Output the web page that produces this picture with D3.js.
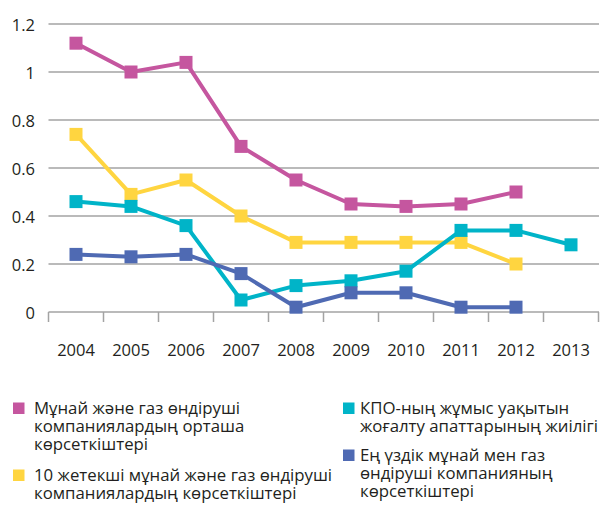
<!DOCTYPE html>
<html><head><meta charset="utf-8">
<script src="https://cdn.jsdelivr.net/npm/d3@7"></script>
<style>
html,body{margin:0;padding:0;background:#fff;}
svg{display:block;font-family:"Open Sans",sans-serif;}
</style></head>
<body><svg id="c" width="604" height="505"></svg>
<script>
const years = ["2004","2005","2006","2007","2008","2009","2010","2011","2012","2013"];
const yTicks = [0, 0.2, 0.4, 0.6, 0.8, 1, 1.2];
const avgValues  = [1.12, 1.00, 1.04, 0.69, 0.55, 0.45, 0.44, 0.45, 0.50, null];
const top10Values = [0.74, 0.49, 0.55, 0.40, 0.29, 0.29, 0.29, 0.29, 0.20, null];
const kpoValues  = [0.46, 0.44, 0.36, 0.05, 0.11, 0.13, 0.17, 0.34, 0.34, 0.28];
const bestValues = [0.24, 0.23, 0.24, 0.16, 0.02, 0.08, 0.08, 0.02, 0.02, null];
const seriesNames = [
  ["Мұнай және газ өндіруші","компаниялардың орташа","көрсеткіштері"],
  ["10 жетекші мұнай және газ өндіруші","компаниялардың көрсеткіштері"],
  ["КПО-ның жұмыс уақытын","жоғалту апаттарының жиілігі"],
  ["Ең үздік мұнай мен газ","өндіруші компанияның","көрсеткіштері"]
];
const colors = ["#C5569F", "#FFD540", "#00B4C8", "#4F6AB3"];
const series = [avgValues, top10Values, kpoValues, bestValues];

const svg = d3.select("#c");
const x = d3.scaleBand().domain(years).range([48.5, 598.5]);
const y = d3.scaleLinear().domain([0, 1.2]).range([312, 24]);
const textColor = "#231F20";
const gridColor = "#A3A3A3";

// gridlines
svg.append("g").selectAll("line").data(yTicks.filter(d => d > 0)).join("line")
  .attr("x1", 48.5).attr("x2", 599).attr("y1", d => y(d)).attr("y2", d => y(d))
  .attr("stroke", gridColor).attr("stroke-width", 1.5);

// y labels
svg.append("g").selectAll("text").data(yTicks).join("text")
  .attr("x", 35).attr("y", d => y(d) + 1).attr("dy", "0.35em")
  .attr("text-anchor", "end").attr("font-size", 16.5).attr("fill", textColor)
  .text(d => d === 0 ? "0" : d3.format("")(d));

// x axis
const xAxis = d3.axisBottom(x).tickSize(10).tickSizeOuter(0).tickFormat("");
const gx = svg.append("g").attr("transform", "translate(0,312)").call(xAxis);
gx.select(".domain").attr("stroke", gridColor).attr("stroke-width", 1.5).attr("d", "M48.5,0H599");
gx.selectAll(".tick").remove();
const tickPos = years.map(d => x(d)).concat([x.range()[1]]);
gx.append("g").selectAll("line").data(tickPos).join("line")
  .attr("x1", d => d).attr("x2", d => d).attr("y1", 0).attr("y2", 10)
  .attr("stroke", gridColor).attr("stroke-width", 1.5);
svg.append("g").selectAll("text").data(years).join("text")
  .attr("x", d => x(d) + x.bandwidth() / 2).attr("y", 355.5)
  .attr("text-anchor", "middle").attr("font-size", 16.5).attr("fill", textColor)
  .text(d => d);

// lines & markers
const cx = (i) => x(years[i]) + x.bandwidth() / 2;
const line = d3.line().defined(d => d != null).x((d, i) => cx(i)).y(d => y(d));
series.forEach((vals, si) => {
  const g = svg.append("g");
  g.append("path").datum(vals).attr("d", line).attr("fill", "none")
    .attr("stroke", colors[si]).attr("stroke-width", 4).attr("stroke-linejoin", "round");
  g.selectAll("rect").data(vals.map((v, i) => ({v, i})).filter(d => d.v != null)).join("rect")
    .attr("x", d => cx(d.i) - 6.5).attr("y", d => y(d.v) - 6.5)
    .attr("width", 13).attr("height", 13).attr("fill", colors[si]);
});

// legend
const legendPos = [
  {x: 13, y: 414, tx: 34}, {x: 13, y: 481, tx: 34}, {x: 343, y: 414, tx: 360}, {x: 343, y: 461, tx: 360}
];
seriesNames.forEach((lines, si) => {
  const p = legendPos[si];
  const g = svg.append("g");
  g.append("rect").attr("x", p.x).attr("y", p.y - 11.5).attr("width", 11.5).attr("height", 11.5)
    .attr("fill", colors[si]);
  lines.forEach((ln, li) => {
    g.append("text").attr("x", p.tx).attr("y", p.y + li * 18)
      .attr("font-size", 16.8).attr("fill", textColor).text(ln);
  });
});
</script></body></html>
